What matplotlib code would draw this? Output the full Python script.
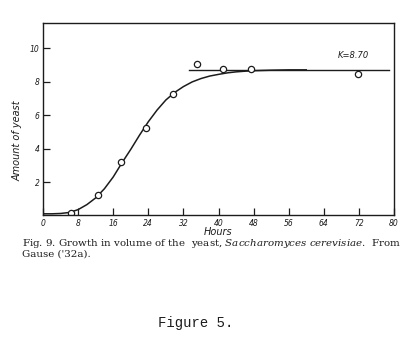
import matplotlib.pyplot as plt

plt.rcParams['mathtext.fontset'] = 'custom'
plt.rcParams['mathtext.rm'] = 'DejaVu Serif'
plt.rcParams['mathtext.it'] = 'DejaVu Serif:italic'

# observed points (hours, amount of yeast)
obs_hours = [6.4, 12.5, 17.8, 23.5, 29.7, 35.1, 41.1, 47.5, 71.8]
obs_amount = [0.12, 1.22, 3.18, 5.25, 7.25, 9.04, 8.75, 8.73, 8.45]

# fitted curve
curve_hours = [0, 2, 4, 6, 8, 10, 12, 14, 16, 18, 20, 22, 24, 26, 28, 30,
               32, 34, 36, 38, 40, 42, 44, 46, 48, 52, 56, 60]
curve_amount = [0.1, 0.1, 0.12, 0.18, 0.35, 0.65, 1.05, 1.6, 2.3, 3.15, 3.95,
                4.8, 5.6, 6.3, 6.9, 7.35, 7.7, 7.98, 8.18, 8.33, 8.43, 8.52,
                8.58, 8.62, 8.65, 8.68, 8.7, 8.7]

K = 8.70
k_hours = [33.2, 78.8]

xticks = [0, 8, 16, 24, 32, 40, 48, 56, 64, 72, 80]
yticks = [2, 4, 6, 8, 10]

ink = '#1c1c1c'

fig = plt.figure(figsize=(4.14, 3.57), dpi=100)
ax = fig.add_axes([0.1039, 0.3964, 0.8478, 0.5392])

ax.plot(curve_hours, curve_amount, color=ink, lw=1.1)
ax.plot(k_hours, [K, K], color=ink, lw=1.0)
ax.plot(obs_hours, obs_amount, 'o', mfc='white', mec=ink, mew=0.9, ms=4.5)
ax.text(67.2, 9.58, 'K=8.70', fontsize=6, style='italic', color=ink,
        va='center', ha='left')

ax.set_xlim(0, 80)
ax.set_ylim(0, 11.5)
ax.set_xticks(xticks)
ax.set_yticks(yticks)
ax.set_xticklabels([str(t) for t in xticks], fontsize=5.5, style='italic')
ax.set_yticklabels([str(t) for t in yticks], fontsize=5.5, style='italic')
ax.tick_params(direction='in', length=5, width=0.9, color=ink, labelcolor=ink, pad=2.5)
for s in ax.spines.values():
    s.set_linewidth(1.0)
    s.set_color(ink)

ax.set_xlabel('Hours', fontsize=7, style='italic', color=ink)
ax.set_ylabel('Amount of yeast', fontsize=7, style='italic', color=ink)
ax.yaxis.set_label_coords(-0.058, 0.387)
ax.xaxis.set_label_coords(0.5, -0.062)

fig.text(22 / 414, 1 - 243 / 357,
         "Fig. 9. Growth in volume of the  yeast, $Saccharomyces\\ cerevisiae$.  From",
         fontsize=7.4, family='DejaVu Serif', color=ink, va='center', ha='left')
fig.text(22 / 414, 1 - 254 / 357, "Gause ('32a).",
         fontsize=7.4, family='DejaVu Serif', color=ink, va='center', ha='left')
fig.text(196 / 414, 1 - 323 / 357, "Figure 5.",
         fontsize=10, family='Liberation Mono', color=ink, va='center', ha='center')

fig.savefig('out.png', dpi=100)
